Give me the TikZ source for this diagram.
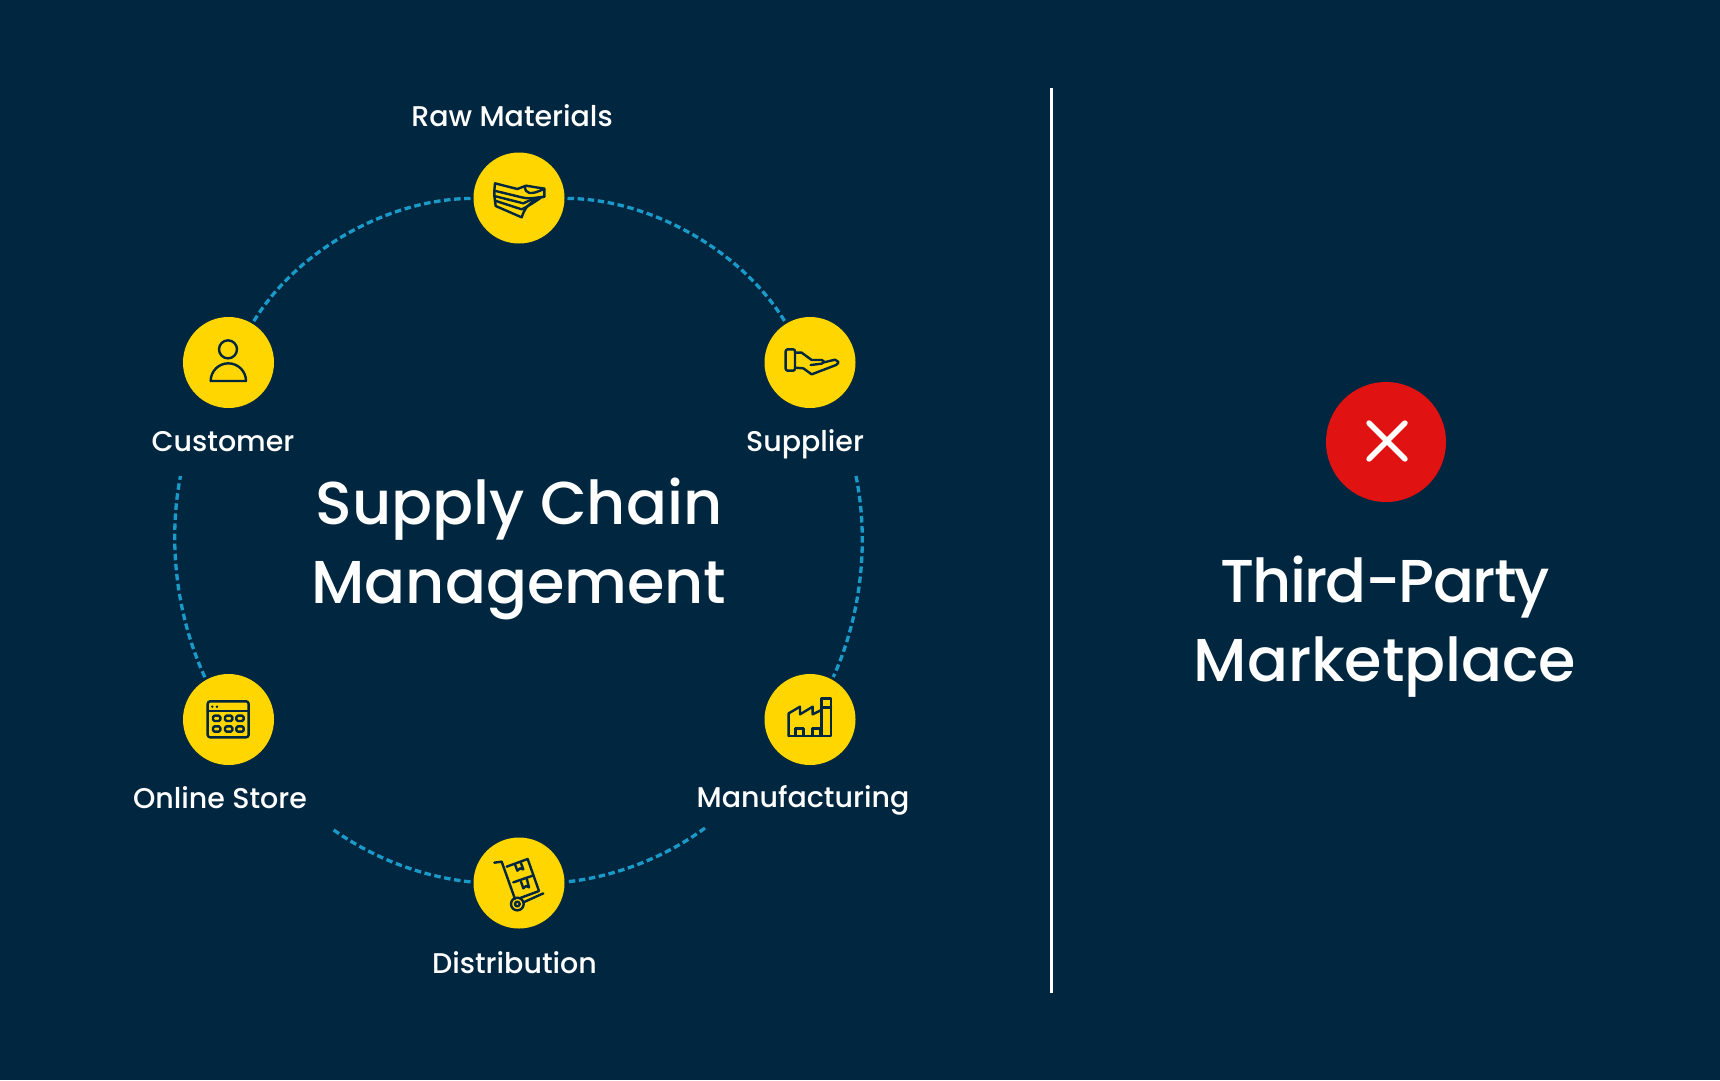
\documentclass[tikz,border=0pt]{standalone}
\usepackage{fontspec}
\setmainfont{Poppins Medium}
\usepackage{tikz}
\definecolor{bgnavy}{HTML}{012740}
\definecolor{discyellow}{HTML}{FFD600}
\definecolor{ringblue}{HTML}{1A9AC9}
\definecolor{crossred}{HTML}{E01212}
\tikzset{
  disc/.style={circle,fill=discyellow,minimum size=91pt,inner sep=0pt,outer sep=3pt},
  ringline/.style={ringblue,line width=3.3pt,dash pattern=on 6.5pt off 3.6pt,looseness=.85},
  lbl/.style={text=white,font=\fontsize{28.5}{34}\selectfont,inner sep=0pt},
  bigtitle/.style={text=white,font=\fontsize{60.5}{79}\selectfont,align=center,inner sep=0pt},
  glyph/.style={bgnavy,line width=2.4pt,line join=round,line cap=round}
}
\begin{document}
\begin{tikzpicture}[x=1pt,y=-1pt]
  \fill[bgnavy] (0,0) rectangle (1720,1080);
  \useasboundingbox (0,0) rectangle (1720,1080);
  \node[disc] (raw) at (519,198) {};
  \node[disc] (supplier) at (810,362.5) {};
  \node[disc] (customer) at (228.5,362.5) {};
  \node[disc] (store) at (228.5,719.5) {};
  \node[disc] (factory) at (810,719.5) {};
  \node[disc] (distribution) at (519,883) {};
  \node[lbl] (rawlbl) at (512,116) {Raw Materials};
  \node[lbl] (customerlbl) at (223,442) {Customer};
  \node[lbl] (supplierlbl) at (805,444) {Supplier};
  \node[lbl] (storelbl) at (220,798) {Online Store};
  \node[lbl] (factorylbl) at (803,800) {Manufacturing};
  \node[lbl] (distributionlbl) at (514.5,963) {Distribution};
  \node[bigtitle] (title) at (519,549) {Supply Chain\\Management};
  \node[bigtitle] (market) at (1385,627) {{\addfontfeature{LetterSpace=-2.8}Third-Party}\\Marketplace};
  \node[circle,fill=crossred,minimum size=120pt,inner sep=0pt] (fail) at (1386,442) {};
  \coordinate (crossa) at (1369,423);
  \coordinate (crossb) at (1405,459);
  \coordinate (crossc) at (1405,423);
  \coordinate (crossd) at (1369,459);
  \draw[white,line width=5.4pt,line cap=round] (crossa) -- (crossb) (crossc) -- (crossd);
  \coordinate (dividertop) at (1051,88);
  \coordinate (dividerbot) at (1051,993);
  \draw[white,line width=3pt] (dividertop) -- (dividerbot);
  \coordinate (leftup) at (180.5,476);
  \coordinate (rightup) at (856,476);
  \coordinate (botleft) at (331,828);
  \coordinate (botright) at (705,828);
  \draw[ringline] (raw) to[bend left=29] (supplier);
  \draw[ringline] (customer) to[bend left=29] (raw);
  \draw[ringline] (rightup) to[bend left=18] (factory);
  \draw[ringline] (store) to[bend left=18] (leftup);
  \draw[ringline] (distribution) to[bend left=15] (botleft);
  \draw[ringline] (botright) to[bend left=15] (distribution);
  \begin{scope}[shift={(460,140)},scale=1/3,glyph]
    \draw (105,130) -- (172,147) -- (198,137) -- (253,146) -- (253,170) .. controls (215,178) .. (190,190);
    \draw (105,130) -- (103,152) -- (185,172) .. controls (205,176) .. (253,170);
    \draw (103,152) -- (103,168) -- (190,190);
    \draw (103,168) -- (105,182) -- (185,208) .. controls (210,195) .. (240,175);
    \draw (105,182) -- (107,198) -- (185,232) .. controls (195,205) .. (225,178);
    \draw (195,140) .. controls (195,160) and (210,168) .. (253,146);
  \end{scope}
  \begin{scope}[shift={(750,305)},scale=1/3,glyph]
    \draw[rounded corners=2pt] (107,133) rectangle (135,197);
    \draw (135,143) -- (155,143) -- (185,165) -- (215,165) .. controls (224,170) .. (215,176) -- (182,180);
    \draw (135,188) -- (160,190) -- (185,208) -- (258,180) .. controls (268,172) .. (255,164) -- (222,172);
  \end{scope}
  \begin{scope}[shift={(170,305)},scale=1/3,glyph]
    \draw (174,133) circle[radius=27];
    \draw (122,228) arc[start angle=180,end angle=360,radius=53] -- cycle;
  \end{scope}
  \begin{scope}[shift={(170,660)},scale=1/3,glyph]
    \draw[rounded corners=2.5pt] (113,124) rectangle (236,232);
    \draw (113,153) -- (236,153);
    \fill (127,140) circle[radius=4] (141,140) circle[radius=4];
    \foreach \px in {140,176,210}
      \foreach \py in {175,207}
        \draw[rounded corners=1.5pt] (\px-11,\py-8) rectangle (\px+11,\py+8);
  \end{scope}
  \begin{scope}[shift={(750,660)},scale=1/3,glyph]
    \draw (116,228) -- (116,160) -- (150,140) -- (150,163) -- (188,140) -- (188,163) -- (214,150);
    \draw (214,116) rectangle (243,228);
    \draw (214,143) -- (243,143);
    \draw (116,228) -- (214,228);
    \draw (137,228) -- (137,205) -- (160,205) -- (160,228);
    \draw (188,228) -- (188,205) -- (212,205) -- (212,228);
  \end{scope}
  \begin{scope}[shift={(460,825)},scale=1/3,glyph]
    \draw (103,113) -- (125,110) -- (165,222);
    \draw (172,237) circle[radius=19] (172,237) circle[radius=7];
    \draw (190,232) -- (250,205);
    \draw (140,125) -- (203,102) -- (237,198) -- (178,220);
    \draw (160,172) -- (218,152);
    \draw (165,118) -- (172,137) -- (180,130) -- (190,133) -- (182,112);
    \draw (183,170) -- (190,190) -- (198,183) -- (207,187) -- (200,160);
  \end{scope}
\end{tikzpicture}
\end{document}
